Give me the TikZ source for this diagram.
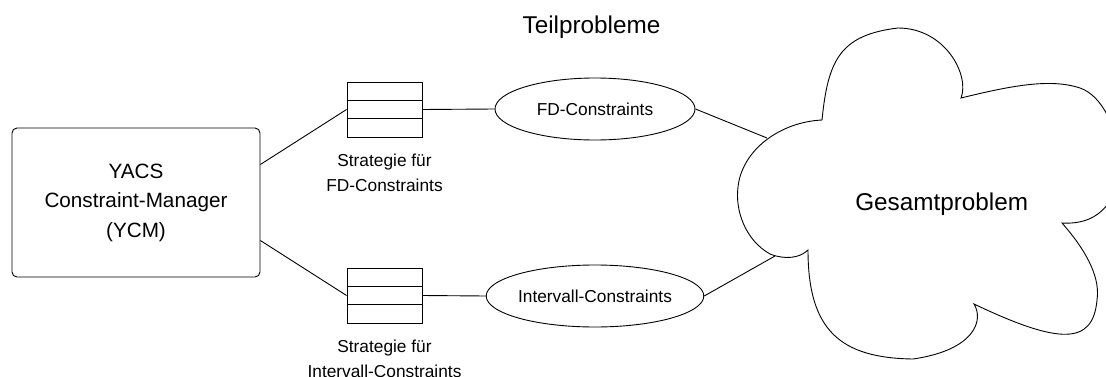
\documentclass[tikz,border=0pt]{standalone}
\usepackage{fontspec}
\setmainfont{Liberation Sans}
\usetikzlibrary{shapes.geometric,calc,positioning}

\begin{document}
\begin{tikzpicture}[x=1pt, y=1pt, line width=0.9pt,
every node/.style={%draw=red,
    inner sep=0pt
    },
mgr/.style={draw, rounded corners=5pt, minimum width=248pt, minimum height=149pt,
    align=center, font=\fontsize{20.7}{29.5}\selectfont},
stapel/.style={draw, minimum width=75pt, minimum height=55pt},
teil/.style={draw, ellipse, minimum width=200pt, minimum height=62pt,
    font=\fontsize{17.3}{25}\selectfont},
strat/.style={align=center, font=\fontsize{17.3}{25}\selectfont},
gross/.style={font=\fontsize{24.3}{29}\selectfont}
]
\useasboundingbox (0,0) rectangle (1106,376);

\node[mgr] (ycm) at (136,173.5) {YACS\\Constraint-Manager\\(YCM)};

\node[stapel] (stFD) at (384.5,266.5) {};
\node[stapel] (stIV) at (384.5,80.5) {};
\node[strat, below=16pt of stFD] (lbFD) {Strategie für\\FD-Constraints};
\node[strat, below=16pt of stIV] (lbIV) {Strategie für\\Intervall-Constraints};

\node[teil] (fd) at (595,267) {FD-Constraints};
\node[teil] (iv) at (595,80) {Intervall-Constraints};

\node[gross, anchor=base] (tp) at (591.5,342) {Teilprobleme};

% Wolke
\draw (822,256) .. controls (828,316) and (840,341) .. (898,348)
      .. controls (945,348) and (970,301) .. (961,278)
      .. controls (1010,290) and (1050,298) .. (1080,288)
      .. controls (1125,273) and (1145,148) .. (1062,153)
      .. controls (1090,121) and (1100,96) .. (1097,76)
      .. controls (1093,31) and (1060,31) .. (974,72)
      .. controls (984,56) and (975,26) .. (913,17)
      .. controls (840,18) and (808,46) .. (808,126)
      .. controls (800,118) and (785,116) .. (770,122)
      .. controls (745,136) and (735,166) .. (738,189)
      .. controls (742,226) and (780,254) .. (822,256) -- cycle;
\node[gross, anchor=base] (ges) at (941.7,166) {Gesamtproblem};
\coordinate (gesA) at (767,238);
\coordinate (gesB) at (775,120);

\foreach \s in {stFD,stIV}
  \foreach \k in {1,2}
    \draw ($(\s.north west)!\k/3!(\s.south west)$) -- ($(\s.north east)!\k/3!(\s.south east)$);

\foreach \i/\j in {ycm.17/stFD.west, ycm.-17/stIV.west,
                   stFD.east/fd.west, stIV.east/iv.west,
                   fd.east/gesA, iv.east/gesB%
            }
    \draw (\i) -- (\j);

\end{tikzpicture}
\end{document}
